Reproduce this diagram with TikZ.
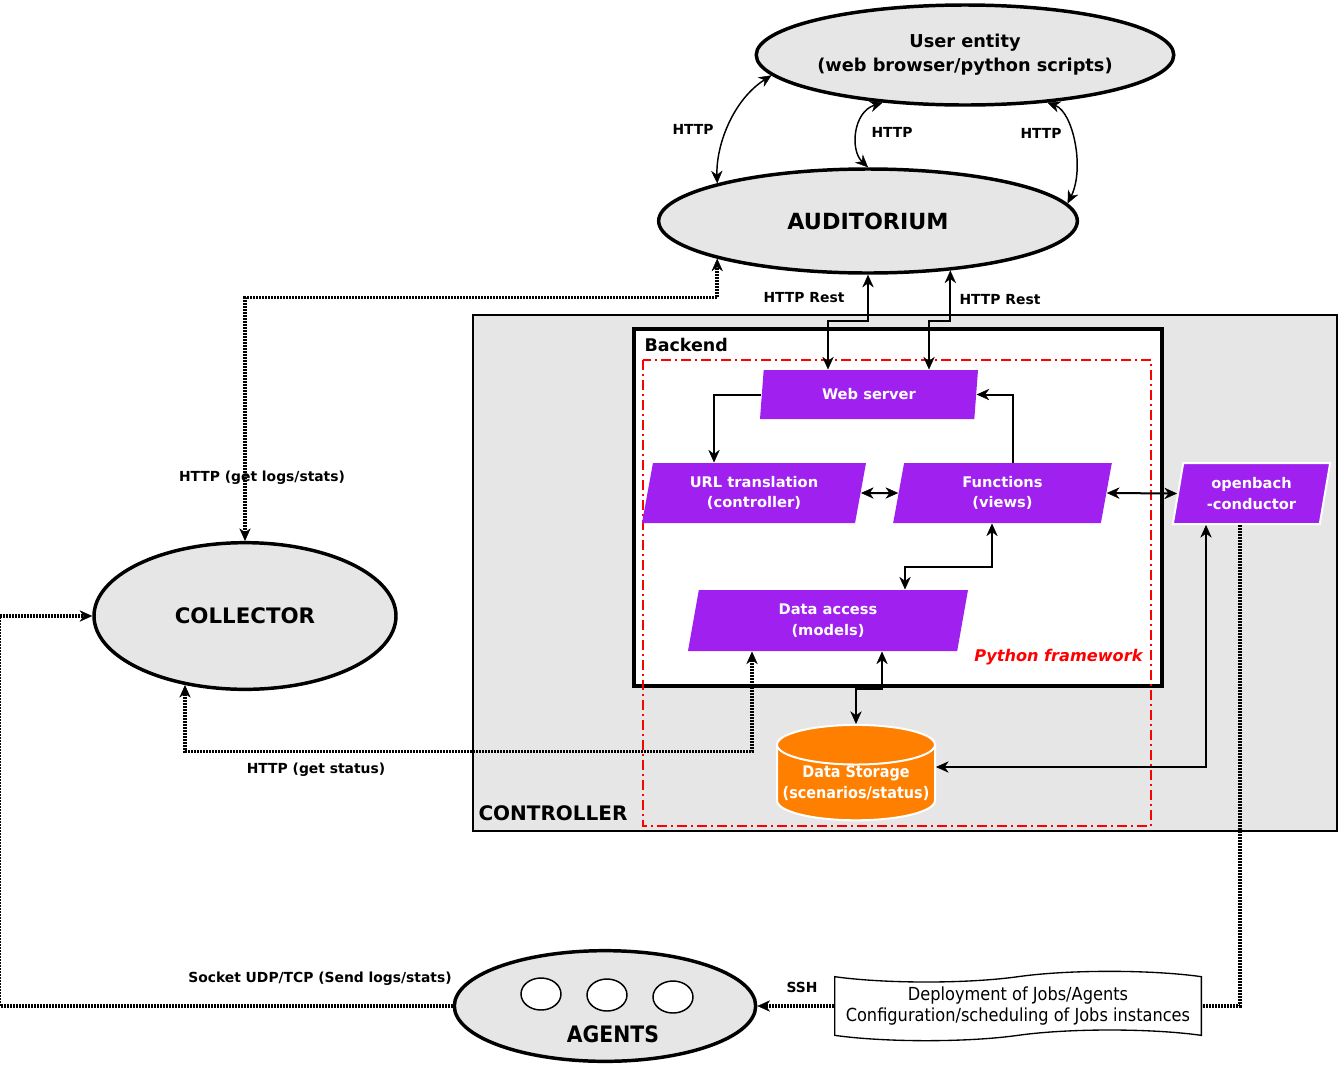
\documentclass[tikz,border=0pt]{standalone}
\usepackage{fontspec}
\setmainfont{DejaVu Sans}
\newfontfamily\condfont{DejaVu Sans Condensed}
\usetikzlibrary{arrows.meta,calc,shapes.geometric,shapes.symbols}

\definecolor{boxgray}{RGB}{230,230,230}
\definecolor{procpurple}{RGB}{160,32,240}
\definecolor{storeorange}{RGB}{255,128,0}

\tikzset{every picture/.style={line width=0.75pt}}
\tikzset{
  entity/.style={ellipse, draw, line width=2.6pt, fill=boxgray, inner sep=0pt},
  process/.style={trapezium, trapezium left angle=72, trapezium right angle=108, trapezium stretches body,
    fill=procpurple, text=white, font=\bfseries\fontsize{11}{15.5}\selectfont, align=center, inner sep=0pt},
  link/.style={line width=1.5pt},
  dotlink/.style={line width=2.6pt, dash pattern=on 1.5pt off 0.75pt},
  curvelink/.style={line width=1.1pt},
  lbl/.style={inner sep=0.75pt, font=\bfseries\fontsize{10.4}{12}\selectfont},
  >={Stealth[length=9.5pt,width=8.5pt,line width=0.3pt]}
}

\begin{document}
\begin{tikzpicture}[x=0.75pt,y=0.75pt,yscale=-1,xscale=1]
	\useasboundingbox (0,0) rectangle (1340,1065);
	
	%Shape: Rectangle (controller)
	\draw [line width=1.5pt, fill=boxgray] (473,315) rectangle (1337,831) ;
	%Shape: Rectangle (backend)
	\draw [line width=3pt, fill=white] (634,329) rectangle (1162,686) ;
	%Shape: Rectangle (python framework)
	\draw [color=red, line width=1.5pt, dash pattern=on 7.5pt off 3pt on 1.5pt off 3pt] (643,360) rectangle (1151,826) ;
	
	%Shape: Ellipse (user entity)
	\node [entity, minimum width=307.5pt, minimum height=75pt, align=center, font=\bfseries\fontsize{13.3}{18}\selectfont] (user) at (965,55) {User entity\\(web browser/python scripts)};
	%Shape: Ellipse (auditorium)
	\node [entity, minimum width=314pt, minimum height=78pt, font=\bfseries\fontsize{16.7}{20}\selectfont] (aud) at (868,221) {AUDITORIUM};
	%Shape: Ellipse (collector)
	\node [entity, minimum width=226.5pt, minimum height=110pt, font=\bfseries\fontsize{16}{20}\selectfont] (coll) at (245,616) {COLLECTOR};
	%Shape: Ellipse (agents)
	\node [entity, minimum width=226pt, minimum height=83pt] (ag) at (605,1006) {};
	\node [ellipse, draw, fill=white, line width=1.1pt, minimum width=30pt, minimum height=24pt] (aga) at (541,994) {};
	\node [ellipse, draw, fill=white, line width=1.1pt, minimum width=30pt, minimum height=24pt] (agb) at (607,995) {};
	\node [ellipse, draw, fill=white, line width=1.1pt, minimum width=30pt, minimum height=24pt] (agc) at (673,997) {};
	
	%Shape: Parallelograms
	\node [process, minimum width=163.5pt, minimum height=36.75pt] (ws) at (869,394.5) {Web server};
	\node [process, minimum width=168pt, minimum height=45pt] (url) at (754,493) {URL translation\\(controller)};
	\node [process, minimum width=164pt, minimum height=45pt] (fun) at (1002.5,493) {Functions\\(views)};
	\node [process, minimum width=210pt, minimum height=45.75pt] (da) at (828,620.5) {Data access\\(models)};
	\node [process, draw=white, line width=1.5pt, minimum width=118pt, minimum height=45.75pt] (ob) at (1251.5,493.5) {openbach\\-conductor};
	%Shape: Can (data storage)
	\node [cylinder, shape border rotate=90, aspect=0.27, draw=white, line width=1.5pt, fill=storeorange, text=white,
	  minimum width=118.5pt, minimum height=54pt, align=center, inner sep=0pt,
	  font=\condfont\bfseries\fontsize{12}{15.75}\selectfont] (ds) at (856,783) {Data Storage\\(scenarios/status)};
	%Shape: Tape (deployment)
	\node [tape, draw, fill=white, line width=1pt, tape bend height=8pt, minimum width=275pt, minimum height=52pt, align=center,
	  font=\condfont\fontsize{13.5}{15.75}\selectfont] (dep) at (1018,1006) {Deployment of Jobs/Agents\\Configuration/scheduling of Jobs instances};
	
	%Curve Lines (HTTP)
	\draw [curvelink, <->] (aud.166) .. controls (716,145) and (733,100) .. (user.186) ;
	\draw [curvelink, <->] (aud.north) .. controls (850,150) and (853,112) .. (user.210) ;
	\draw [curvelink, <->] (aud.5) .. controls (1085,168) and (1073,112) .. (user.330) ;
	
	%Straight Lines (HTTP Rest)
	\draw [link, <->] ($(ws.north)+(-41,0)$) -- ++(0,-49) -| (aud.south) ;
	\draw [link, <->] ($(ws.north)+(60,0)$) -- ++(0,-49) -| (aud.329) ;
	%Straight Lines (backend)
	\draw [link, ->] (ws.west) -| ($(url.north)+(-40,0)$) ;
	\draw [link, ->] ($(fun.north)+(10.5,0)$) |- (ws.east) ;
	\draw [link, <->] (url.east) -- (fun.west) ;
	\draw [link, <->] (fun.east) -- (ob.west) ;
	\draw [link, <->] ($(fun.south)+(-10.5,0)$) -- ++(0,43) -| ($(da.north)+(77,0)$) ;
	\draw [link, <->] ($(da.south)+(54,0)$) -- ++(0,37) -| (ds.north) ;
	\draw [link, <->] ($(ds.east)+(0,-16)$) -| ($(ob.south)+(-45.5,0)$) ;
	
	%Dotted Lines
	\draw [dotlink, <->] (coll.north) |- ($(aud.194)+(0,39)$) -- (aud.194) ;
	\draw [dotlink, <->] ($(da.south)+(-76,0)$) -- ++(0,100) -| (coll.229) ;
	\draw [dotlink, ->] (ag.west) -- ++(-453,0) |- (coll.west) ;
	\draw [dotlink] ($(ob.south)+(-11.5,0)$) |- (dep.east) ;
	\draw [dotlink, ->] (dep.west) -- (ag.east) ;
	
	% Text Node
	\draw (693,129) node [lbl] (lhttpa) {HTTP};
	% Text Node
	\draw (892,132) node [lbl] (lhttpb) {HTTP};
	% Text Node
	\draw (1041,133) node [lbl] (lhttpc) {HTTP};
	% Text Node
	\draw (804,298) node [lbl] (lresta) {HTTP Rest};
	% Text Node
	\draw (1000,300) node [lbl] (lrestb) {HTTP Rest};
	% Text Node
	\draw (262,478) node [lbl] (llogs) {HTTP (get logs/stats)};
	% Text Node
	\draw (316,770) node [lbl] (lstatus) {HTTP (get status)};
	% Text Node
	\draw (320,979) node [lbl] (lsocket) {Socket UDP/TCP (Send logs/stats)};
	% Text Node
	\draw (802,987) node [lbl] (lssh) {SSH};
	% Text Node
	\draw (643,345) node [anchor=west, inner sep=0.75pt, font=\bfseries\fontsize{13.1}{16}\selectfont] (lbackend) {Backend};
	% Text Node
	\draw (477,813) node [anchor=west, inner sep=0.75pt, font=\bfseries\fontsize{15}{18}\selectfont] (lcontroller) {CONTROLLER};
	% Text Node
	\draw (1144,657) node [anchor=east, inner sep=0.75pt, text=red, font=\bfseries\itshape\fontsize{12.1}{15}\selectfont] (lpython) {Python framework};
	% Text Node
	\draw (613,1034) node [inner sep=0.75pt, font=\condfont\bfseries\fontsize{17}{20}\selectfont] (lagents) {AGENTS};
\end{tikzpicture}
\end{document}
